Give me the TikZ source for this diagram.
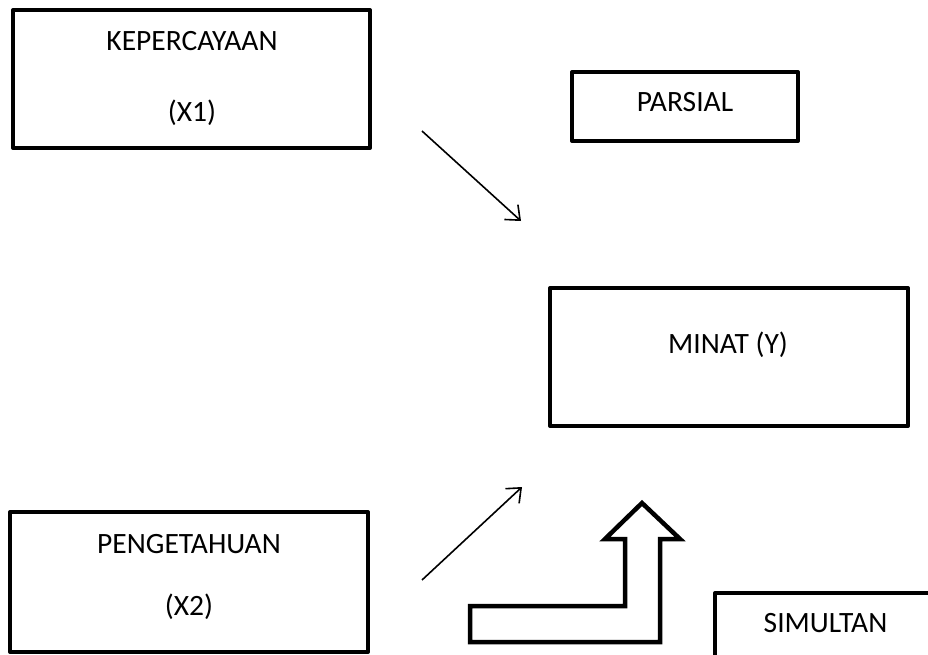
\documentclass[tikz,border=0pt]{standalone}
\usepackage{fontspec}
\setmainfont{Carlito}
\usetikzlibrary{arrows.meta}
\begin{document}
\begin{tikzpicture}[x=1pt,y=-1pt,
  box/.style={draw=black, line width=4pt, line join=round, inner sep=0pt, fill=white},
  lbl/.style={anchor=base, inner sep=0pt, font=\fontsize{29.5}{35}\selectfont},
  thinarrow/.style={line width=1.6pt, -{Straight Barb[length=12pt,width=20pt,line width=1.6pt]}},
  blockarrow/.style={draw=black, line width=4.5pt, line join=miter, fill=white}]
\useasboundingbox (0,0) rectangle (928,655);
\clip (0,0) rectangle (928,655);
% boxes
\node[box, minimum width=357pt, minimum height=138pt] (kep) at (191.5,79) {};
\node[box, minimum width=226pt, minimum height=69pt] (par) at (685,106.5) {};
\node[box, minimum width=358pt, minimum height=138pt] (minat) at (729,357) {};
\node[box, minimum width=358pt, minimum height=140pt] (peng) at (189,582) {};
\node[box, minimum width=260pt, minimum height=120pt, anchor=north west] (sim) at (713,591) {};
% texts
\node[lbl] (tkep) at (192,51) {KEPERCAYAAN};
\node[lbl] (tx1) at (192,122) {(X1)};
\node[lbl] (tpar) at (685,112) {PARSIAL};
\node[lbl] (tmin) at (728,353) {MINAT (Y)};
\node[lbl] (tpeng) at (189,553) {PENGETAHUAN};
\node[lbl] (tx2) at (189,615) {(X2)};
\node[lbl] (tsim) at (825.5,632) {SIMULTAN};
% thin arrows
\coordinate (a1s) at (422,131);
\coordinate (a1e) at (521,221);
\coordinate (a2s) at (422,580);
\coordinate (a2e) at (522,487);
\draw[thinarrow] (a1s) -- (a1e);
\draw[thinarrow] (a2s) -- (a2e);
% bent block arrow
\draw[blockarrow] (470,606) -- (625,606) -- (625,539) -- (605,539) -- (642,503)
  -- (680,539) -- (660,539) -- (660,642) -- (470,642) -- cycle;
\end{tikzpicture}
\end{document}
